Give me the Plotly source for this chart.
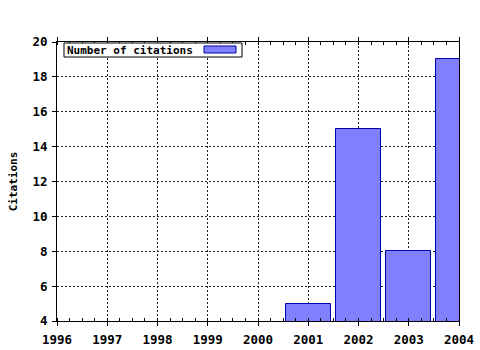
import plotly.graph_objects as go

years = [1996, 1997, 1998, 1999, 2000, 2001, 2002, 2003, 2004]
citations = [0, 0, 0, 0, 0, 5, 15, 8, 19]
y_ticks = [4, 6, 8, 10, 12, 14, 16, 18, 20]
series_name = "Number of citations"

FONT = dict(family="DejaVu Sans Mono", size=11, color="black", weight="bold")
TICKFONT = dict(family="DejaVu Sans Mono", size=12.5, color="black", weight="bold")
BAR = "#8080ff"
EDGE = "#0000a8"
DOT = "2px,2px"

fig = go.Figure()
fig.add_trace(go.Bar(x=years, y=citations, width=0.9, name=series_name,
                     marker=dict(color=BAR, line=dict(color=EDGE, width=1)),
                     showlegend=False))

fig.update_layout(
    width=480, height=350,
    margin=dict(l=57, r=21, t=42, b=29),
    paper_bgcolor="white", plot_bgcolor="white",
    font=FONT,
    bargap=0,
)
fig.update_xaxes(range=[1996, 2004], tickvals=years, ticktext=[str(y) for y in years],
                 automargin=False,
                 showline=True, linecolor="black", linewidth=1, mirror="ticks",
                 ticks="outside", ticklen=4, tickcolor="black", ticklabelstandoff=3,
                 minor=dict(dtick=0.25, ticks="inside", ticklen=3, tickcolor="black", showgrid=False),
                 showgrid=True, gridcolor="#222222", griddash=DOT, gridwidth=1,
                 zeroline=False, tickfont=TICKFONT)
fig.update_yaxes(range=[4, 20], tickvals=y_ticks,
                 automargin=False,
                 showline=True, linecolor="black", linewidth=1, mirror=True,
                 ticks="outside", ticklen=4, tickcolor="black", ticklabelstandoff=2,
                 showgrid=True, gridcolor="#222222", griddash=DOT, gridwidth=1,
                 zeroline=False, tickfont=TICKFONT,
                 title=dict(text="Citations", font=FONT, standoff=12))

# legend box (text + swatch on the right)
fig.add_shape(type="rect", xref="paper", yref="paper", x0=0.0174, x1=0.4602, y0=0.9462, y1=0.9964,
              line=dict(color="black", width=1), fillcolor="white", layer="above")
fig.add_shape(type="rect", xref="paper", yref="paper", x0=0.3657, x1=0.4453, y0=0.9606, y1=0.9857,
              line=dict(color=EDGE, width=1), fillcolor=BAR, layer="above")
fig.add_annotation(xref="paper", yref="paper", x=0.0199, y=0.9713, xanchor="left", yanchor="middle",
                   text=series_name, showarrow=False, font=FONT)

fig.write_html("out.html")
